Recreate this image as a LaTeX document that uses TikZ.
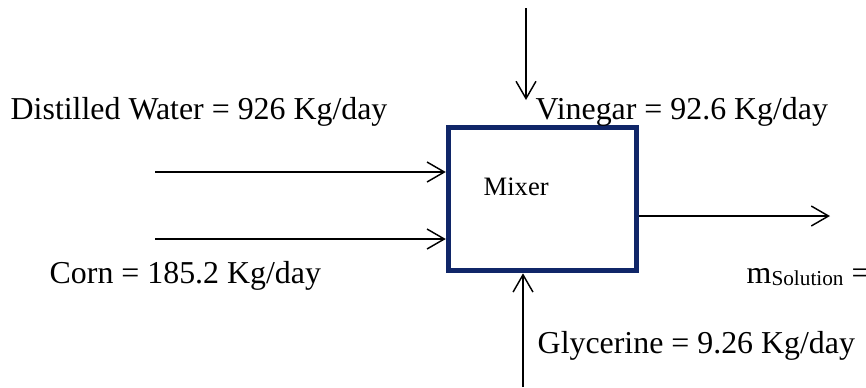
\documentclass[tikz,border=0pt]{standalone}
\usepackage{fontspec}
\setmainfont{Liberation Serif}
\usepackage{tikz}
\usetikzlibrary{arrows.meta}
\definecolor{mixnavy}{RGB}{16,38,104}

\begin{document}
\begin{tikzpicture}[x=1cm,y=1cm,line width=.55pt,font=\fontsize{12}{14}\selectfont,
  mixerbox/.style={draw=mixnavy,line width=1.9pt,minimum width=2.4871cm,minimum height=1.8957cm,inner sep=0pt},
  flow/.style={-{Straight Barb[length=6.5pt,width=7.5pt]}},
  lbl/.style={anchor=base west,inner sep=0pt}]
\useasboundingbox (0,0) rectangle (11.4565,5.1197);
\node[mixerbox] (mixer) at (7.1742,2.4851) {};
\node[lbl,font=\fontsize{10}{12}\selectfont] (mixlabel) at (6.3897,2.5400) {Mixer};
\coordinate (waterin) at (2.0505,2.8443);
\coordinate (cornin) at (2.0505,1.9579);
\coordinate (vinegarin) at (6.9586,5.0139);
\coordinate (vinegartip) at (6.9586,3.7968);
\coordinate (glycerinein) at (6.9189,0.0000);
\coordinate (solutionout) at (10.9802,2.2622);
\draw[flow] (waterin) -- (mixer.west |- waterin);
\draw[flow] (cornin) -- (mixer.west |- cornin);
\draw[flow] (vinegarin) -- (vinegartip);
\draw[flow] (glycerinein) -- (glycerinein |- mixer.south);
\draw[flow] (mixer.east |- solutionout) -- (solutionout);
\node[lbl] (water) at (0.1323,3.5454) {Distilled Water = 926 Kg/day};
\node[lbl] (vinegar) at (7.0776,3.5454) {Vinegar = 92.6 Kg/day};
\node[lbl] (corn) at (0.6482,1.3758) {Corn = 185.2 Kg/day};
\node[lbl] (glycerine) at (7.1041,0.4498) {Glycerine = 9.26 Kg/day};
\node[lbl] (solution) at (9.8690,1.3719) {m{\fontsize{8}{9}\selectfont\raisebox{-.9pt}{Solution}} =};
\end{tikzpicture}
\end{document}
